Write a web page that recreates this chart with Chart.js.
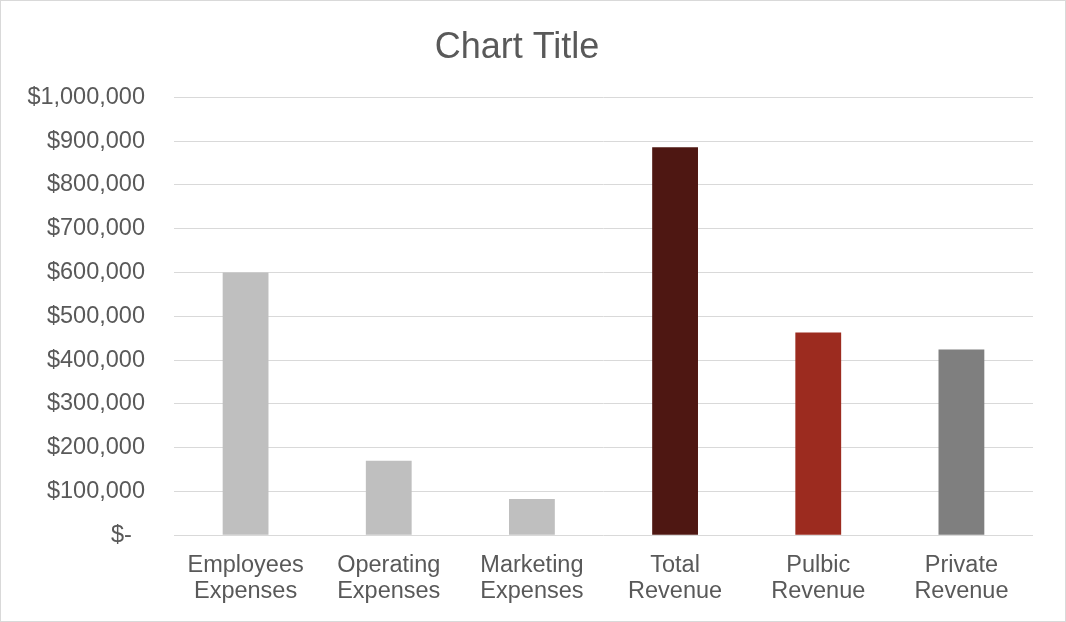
<!DOCTYPE html>
<html>
<head>
<meta charset="utf-8">
<script src="https://cdn.jsdelivr.net/npm/chart.js@4"></script>
<style>
    html, body { margin: 0; padding: 0; background: #fff; }
    #wrap {
        width: 1066px; height: 622px; box-sizing: border-box;
        border: 1px solid #D9D9D9; position: relative;
    }
    canvas { display: block; }
</style>
</head>
<body>
<div id="wrap"><canvas id="chart" width="1064" height="620"></canvas></div>
<script>
// Values
const categories = [
    ['Employees', 'Expenses'],
    ['Operating', 'Expenses'],
    ['Marketing', 'Expenses'],
    ['Total', 'Revenue'],
    ['Pulbic', 'Revenue'],
    ['Private', 'Revenue']
];
const amounts = [600000, 170000, 83000, 886000, 463000, 424000];
const yTickValues = [0, 100000, 200000, 300000, 400000, 500000, 600000, 700000, 800000, 900000, 1000000];

const barColors = ['#BFBFBF', '#BFBFBF', '#BFBFBF', '#4E1712', '#9C2B1F', '#7F7F7F'];
const textColor = '#595959';
const fontFamily = '"Liberation Sans", Arial, sans-serif';

function money(v) {
    if (v === 0) return '$-  ';
    return '$' + v.toLocaleString('en-US');
}

new Chart(document.getElementById('chart'), {
    type: 'bar',
    data: {
        labels: categories,
        datasets: [{
            data: amounts,
            backgroundColor: barColors,
            borderWidth: 0,
            barPercentage: 0.32,
            categoryPercentage: 1
        }]
    },
    options: {
        responsive: false,
        animation: false,
        layout: { padding: { left: 0, right: 32, top: 0, bottom: 7 } },
        plugins: {
            legend: { display: false },
            tooltip: { enabled: false },
            title: {
                display: true,
                text: 'Chart Title',
                color: textColor,
                font: { family: fontFamily, size: 36, weight: 'normal', lineHeight: 1.2 },
                padding: { top: 25, bottom: 28 }
            }
        },
        scales: {
            x: {
                grid: { display: false },
                border: { display: false },
                ticks: {
                    color: textColor,
                    font: { family: fontFamily, size: 23.5, lineHeight: 1.12 },
                    padding: 9,
                    maxRotation: 0,
                    autoSkip: false
                }
            },
            y: {
                min: 0,
                max: yTickValues[yTickValues.length - 1],
                afterBuildTicks: (scale) => {
                    scale.ticks = yTickValues.map(v => ({ value: v }));
                },
                afterFit: (scale) => { scale.width = 173; },
                grid: { color: '#D9D9D9', lineWidth: 1, drawTicks: false },
                border: { display: false },
                ticks: {
                    color: textColor,
                    font: { family: fontFamily, size: 23.5 },
                    padding: 29,
                    callback: (v) => money(v)
                }
            }
        }
    }
});
</script>
</body>
</html>
